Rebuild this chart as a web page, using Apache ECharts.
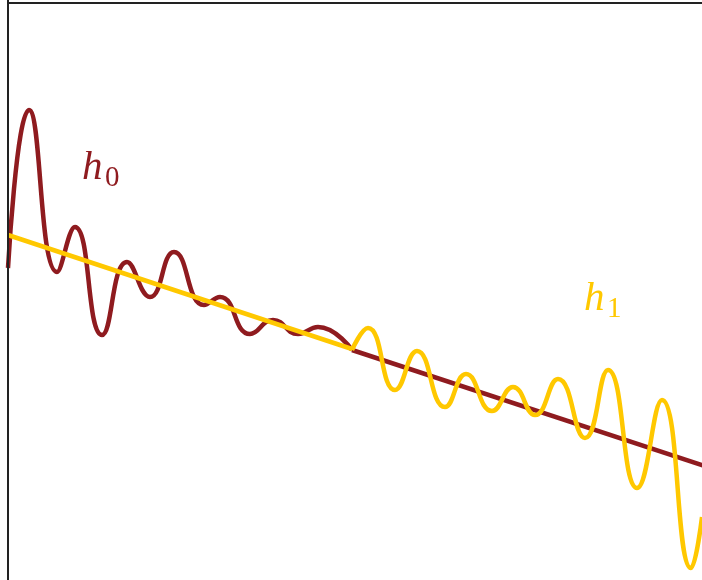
<!DOCTYPE html>
<html>
<head>
<meta charset="utf-8">
<script src="https://cdn.jsdelivr.net/npm/echarts@6/dist/echarts.min.js"></script>
<style>html,body{margin:0;padding:0;background:#fff;}#c{width:702px;height:580px;}</style>
</head>
<body>
<div id="c"></div>
<script>
// values in chart units (x: 0..700, y: 0..580, upward)
const h0Wave = [[0,315],[21,473],[49,311],[67,356],[94,248],[119,321],[142,286],[166,331],[196,278],[212,286],[242,249],[265,263],[290,249],[310,256],[344,233]];
const h0Line = [[344,233],[700,116]];
const h1Line = [[0,348],[344,234]];
const h1Wave = [[344,233],[360,255],[387,193],[409,232],[437,176],[458,209],[484,172],[505,196],[527,168],[550,204],[577,145],[600,213],[629,95],[654,183],[683,15],[694,66]];
const labels = [
  {main:'h', sub:'0', color:'#8f1b1f', x:82, y:170},
  {main:'h', sub:'1', color:'#ffc800', x:584, y:301}
];
const RED = '#8f1b1f', YEL = '#ffc800';
const chart = echarts.init(document.getElementById('c'));
const graphics = [
  {type:'line', shape:{x1:8, y1:0, x2:8, y2:580}, style:{stroke:'#222', lineWidth:2}, z:10},
  {type:'line', shape:{x1:8, y1:3, x2:702, y2:3}, style:{stroke:'#222', lineWidth:2}, z:10}
];
labels.forEach(l => {
  graphics.push({type:'text', left:l.x, top:l.y-22, style:{text:l.main, fill:l.color, font:'italic 41px "Liberation Serif"'}});
  graphics.push({type:'text', left:l.x+23, top:l.y-6, style:{text:l.sub, fill:l.color, font:'29px "Liberation Serif"'}});
});
function ser(data, color, z){
  return {type:'line', data:data, smooth:0.5, symbol:'none', clip:true, z:z,
    lineStyle:{color:color, width:4.5}};
}
chart.setOption({
  animation:false,
  grid:{left:8, top:3, width:700, height:580, show:false, outerBoundsMode:'none', containLabel:false},
  xAxis:{type:'value', min:0, max:700, show:false},
  yAxis:{type:'value', min:0, max:580, show:false},
  series:[ser(h0Wave,RED,2), ser(h0Line,RED,2), ser(h1Line,YEL,3), ser(h1Wave,YEL,3)],
  graphic:graphics
});
</script>
</body>
</html>
